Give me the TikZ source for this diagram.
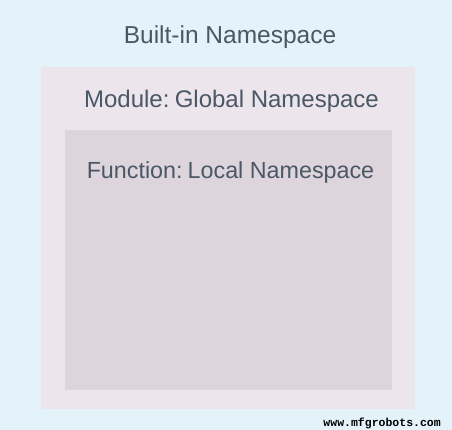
\documentclass[tikz,border=0pt]{standalone}
\usepackage{fontspec}
\setmainfont{Liberation Sans}
\setmonofont{Liberation Mono}
\usepackage{tikz}
\definecolor{bgblue}{HTML}{E4F3F9}
\definecolor{outerbox}{HTML}{ECE5EC}
\definecolor{innerbox}{HTML}{DDD5DB}
\definecolor{textgray}{HTML}{4A5866}
\tikzset{label/.style={anchor=base, text=textgray, inner sep=0pt}}
\newcommand {\nsbox}[5] {\fill[#1] (#2,#3) rectangle (#4,#5);}
\newcommand {\fsize}[1] {\fontsize{#1}{#1}\selectfont}

\begin{document}
\begin{tikzpicture}[x=1pt, y=-1pt]
        \fill[bgblue] (0,0) rectangle (452,430);
        \useasboundingbox (0,0) rectangle (452,430);
        \nsbox{outerbox}{41}{67}{415}{409}
        \nsbox{innerbox}{65}{130}{392}{390}
        \node[label, font=\fsize{24.5}] (builtin) at (230,44) {Built-in Namespace};
        \node[label, font=\fsize{24}] (module) at (231.5,108) {Module:\hspace{-0.15em} Global Namespace};
        \node[label, font=\fsize{23.3}] (function) at (230.5,179) {Function:\hspace{-0.15em} Local Namespace};
        \node[anchor=base east, inner sep=0pt, font=\ttfamily\bfseries\fsize{11.5}] (site) at (441,426) {www.mfgrobots.com};
    \end{tikzpicture}
\end{document}
